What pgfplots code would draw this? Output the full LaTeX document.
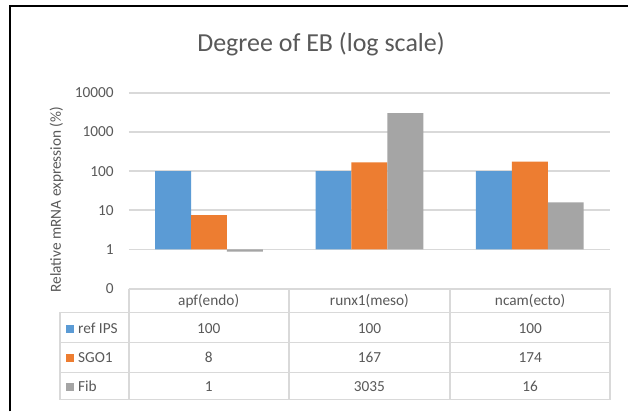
\documentclass[border=0pt]{standalone}
\usepackage{pgfplots}
\pgfplotsset{compat=1.18}
\usepackage{fontspec}
\setmainfont{Carlito}
\definecolor{cblue}{HTML}{5B9BD5}
\definecolor{corange}{HTML}{ED7D31}
\definecolor{cgray}{HTML}{A5A5A5}
\definecolor{txt}{HTML}{595959}
\definecolor{gridc}{HTML}{D9D9D9}
\newcommand{\tf}{\fontsize{11.5}{13}\selectfont}
\begin{document}
\begin{tikzpicture}
\begin{scope}[x=0.75pt,y=-0.75pt,yshift=309pt]
\useasboundingbox (0,0) rectangle (629,412);
\fill[white] (0,0) rectangle (629,412);
\end{scope}
\begin{axis}[
  at={(96.75pt,92.25pt)}, anchor=south west,
  scale only axis, width=361.5pt, height=147pt,
  ymode=log, ymin=0.1, ymax=10000, xmin=-0.5, xmax=2.5,
  ybar=0pt, bar width=27pt,
  axis line style={draw=none},
  ymajorgrids, grid style={gridc, line width=1.2pt},
  xtick=\empty,
  ytick={0.1,1,10,100,1000,10000},
  yticklabels={0,1,10,100,1000,10000},
  major tick length=0pt, tick style={draw=none},
  yticklabel style={font=\tf, text=txt, anchor=east, inner sep=0pt, xshift=-11.25pt},
  clip=false,
]
\addplot[fill=cblue, draw=none] coordinates {(0,100) (1,100) (2,100)};
\addplot[fill=corange, draw=none] coordinates {(0,7.5) (1,167) (2,174)};
\addplot[fill=cgray, draw=none] coordinates {(0,0.88) (1,3035) (2,16)};
\end{axis}
\begin{scope}[x=0.75pt,y=-0.75pt,yshift=309pt]
% frame
\draw[black, line width=1.5pt] (10,412) -- (10,6) -- (629,6);
% title
\node[anchor=base, text=txt, font=\fontsize{19.5}{22}\selectfont, inner sep=0pt] at (321.5,52) {Degree of EB (log scale)};
% y label
\node[anchor=base, rotate=90, text=txt, font=\tf, inner sep=0pt] at (61,200) {Relative mRNA expression (\%)};
% table
\draw[gridc, line width=1.2pt] (129,289.5) -- (611,289.5) -- (611,400) -- (60,400) -- (60,313) -- (611,313);
\draw[gridc, line width=1.2pt] (60,343) -- (611,343) (60,373) -- (611,373);
\draw[gridc, line width=1.2pt] (129,289.5) -- (129,400) (289.5,289.5) -- (289.5,400) (450.5,289.5) -- (450.5,400);
\begin{scope}[every node/.style={anchor=base, text=txt, font=\tf, inner sep=0pt}]
\node at (209,306) {apf(endo)};
\node at (370,306) {runx1(meso)};
\node at (531,306) {ncam(ecto)};
\node at (209,334) {100};
\node at (370,334) {100};
\node at (531,334) {100};
\node at (209,363) {8};
\node at (370,363) {167};
\node at (531,363) {174};
\node at (209,392) {1};
\node at (370,392) {3035};
\node at (531,392) {16};
\node[anchor=base west] at (78,334) {ref IPS};
\node[anchor=base west] at (78,363) {SGO1};
\node[anchor=base west] at (78,392) {Fib};
\end{scope}
\fill[cblue] (66,326) rectangle (74,334);
\fill[corange] (66,355) rectangle (74,363);
\fill[cgray] (66,384) rectangle (74,392);
\end{scope}
\end{tikzpicture}
\end{document}
